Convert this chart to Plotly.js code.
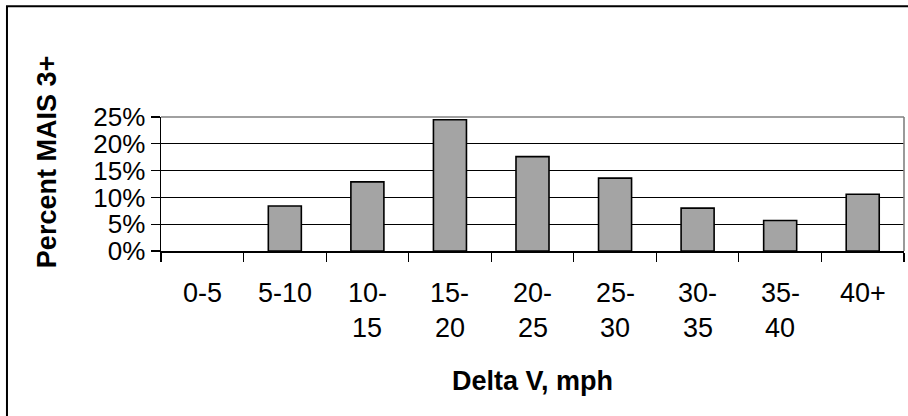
<!DOCTYPE html>
<html>
<head>
<meta charset="utf-8">
<script src="https://cdn.plot.ly/plotly-3.0.1.min.js"></script>
<style>html,body{margin:0;padding:0;background:#fff;}#chart{width:908px;height:416px;}</style>
</head>
<body>
<div id="chart"></div>
<script>
// Data
const categories = ['0-5', '5-10', '10-15', '15-20', '20-25', '25-30', '30-35', '35-40', '40+'];
const percentMais3 = [0.000, 0.084, 0.129, 0.245, 0.176, 0.136, 0.080, 0.057, 0.106];
const labelLine1 = ['0-5', '5-10', '10-', '15-', '20-', '25-', '30-', '35-', '40+'];
const labelLine2 = ['', '', '15', '20', '25', '30', '35', '40', ''];
const xTitle = 'Delta V, mph';
const yTitle = 'Percent MAIS 3+';

const FONT = 'Liberation Sans, Arial, sans-serif';
const TICK_SIZE = 27;
const YTICK_SIZE = 26;
const TITLE_SIZE = 27;

const trace = {
  type: 'bar',
  x: categories,
  y: percentMais3,
  marker: {
    color: '#a4a4a4',
    line: { color: '#000000', width: percentMais3.map(v => (v > 0 ? 1.6 : 0)) }
  },
  hoverinfo: 'skip'
};

const annotations = [];
categories.forEach((c, i) => {
  annotations.push({ x: c, xref: 'x', y: -0.31, yref: 'paper', text: labelLine1[i], showarrow: false,
    xanchor: 'center', yanchor: 'middle', font: { family: FONT, size: TICK_SIZE, color: '#000' } });
  if (labelLine2[i]) {
    annotations.push({ x: c, xref: 'x', y: -0.572, yref: 'paper', text: labelLine2[i], showarrow: false,
      xanchor: 'center', yanchor: 'middle', font: { family: FONT, size: TICK_SIZE, color: '#000' } });
  }
});
annotations.push({ x: 0.5, xref: 'paper', y: -0.969, yref: 'paper', text: '<b>' + xTitle + '</b>', showarrow: false,
  xanchor: 'center', yanchor: 'middle', font: { family: FONT, size: TITLE_SIZE, color: '#000' } });
annotations.push({ x: -0.154, xref: 'paper', y: 0.66, yref: 'paper', text: '<b>' + yTitle + '</b>', showarrow: false,
  textangle: -90, xanchor: 'center', yanchor: 'middle', font: { family: FONT, size: TITLE_SIZE, color: '#000' } });

const layout = {
  width: 908, height: 416,
  margin: { l: 161, r: 4, t: 117, b: 165 },
  paper_bgcolor: '#ffffff', plot_bgcolor: '#ffffff',
  showlegend: false,
  bargap: 0.6,
  font: { family: FONT, size: TICK_SIZE, color: '#000' },
  xaxis: {
    type: 'category',
    showticklabels: false,
    ticks: 'outside', ticklen: 9, tickwidth: 1.2, tickcolor: '#000',
    tickson: 'boundaries',
    showline: true, linecolor: '#000', linewidth: 1.5,
    showgrid: false, zeroline: false,
    fixedrange: true
  },
  yaxis: {
    range: [0, 0.25],
    dtick: 0.05, tick0: 0,
    tickformat: '.0%',
    ticks: 'outside', ticklen: 9, tickwidth: 1.2, tickcolor: '#000',
    showline: true, linecolor: '#000', linewidth: 1.5,
    showgrid: true, gridcolor: '#000', gridwidth: 1,
    zeroline: false,
    tickfont: { family: FONT, size: YTICK_SIZE, color: '#000' },
    fixedrange: true
  },
  shapes: [
    { type: 'line', xref: 'paper', yref: 'paper', x0: 0, x1: 1, y0: 1, y1: 1, line: { color: '#808080', width: 1.6 } },
    { type: 'line', xref: 'paper', yref: 'paper', x0: 1, x1: 1, y0: 0, y1: 1, line: { color: '#808080', width: 1.6 } },
    { type: 'rect', xref: 'paper', yref: 'paper', x0: -0.2073, x1: 1.02, y0: 1.827, y1: -1.3, line: { color: '#000', width: 2 }, fillcolor: 'rgba(0,0,0,0)' }
  ],
  annotations: annotations
};

Plotly.newPlot('chart', [trace], layout, { displayModeBar: false, staticPlot: true });
</script>
</body>
</html>
